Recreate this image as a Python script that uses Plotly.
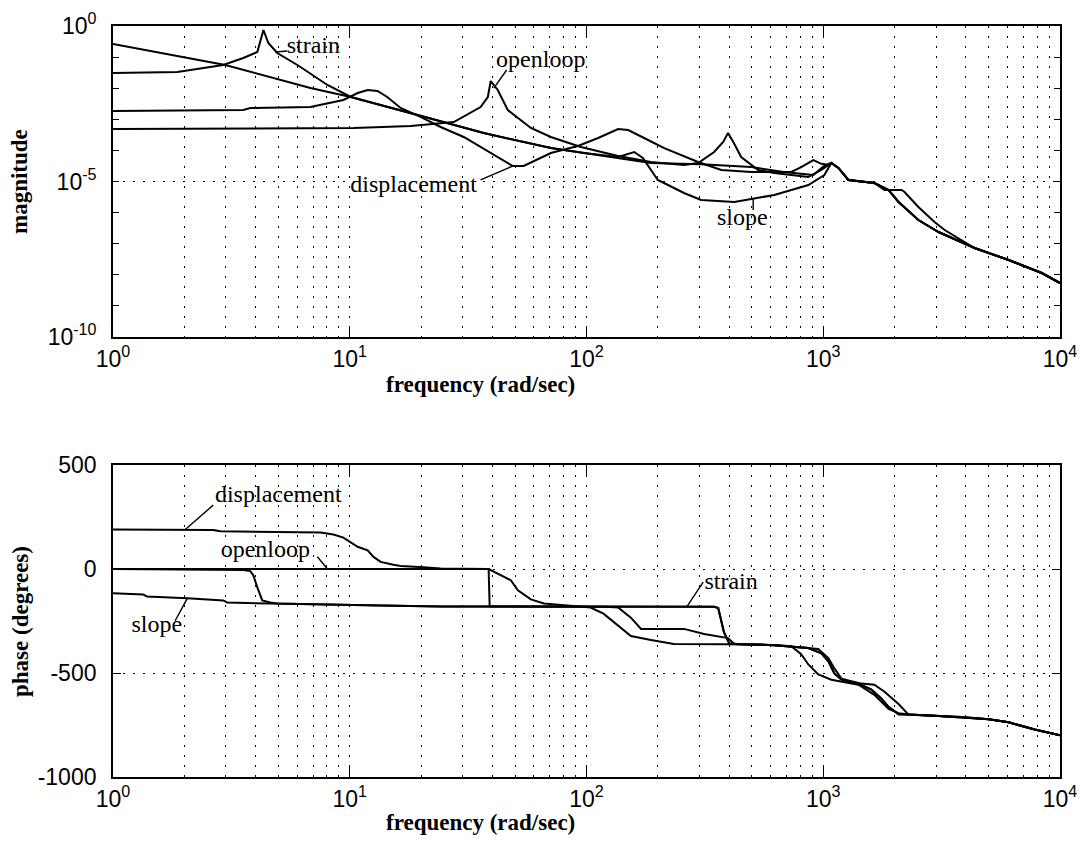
import plotly.graph_objects as go

# ---------------- magnitude data (frequency in rad/sec) ----------------
openloop_mag_f = [1, 10.4, 18.1, 24.2, 27.5, 35.7, 38.3, 39.4, 42.2, 46.5, 51.3, 58.2, 70.7, 94.7,
                  136, 187, 258, 296, 346, 378, 396, 417, 450, 531, 621, 865, 982, 1082]
openloop_mag = [4.88e-4, 5.25e-4, 6.10e-4, 7.60e-4, 8.18e-4, 2.48e-3, 5.21e-3, 1.70e-2, 8.75e-3, 1.99e-3,
                1.10e-3, 5.25e-4, 2.70e-4, 1.29e-4, 6.61e-5, 4.24e-5, 3.40e-5, 3.94e-5, 8.89e-5, 1.86e-4,
                3.62e-4, 1.86e-4, 6.14e-5, 2.34e-5, 1.87e-5, 1.40e-5, 2.34e-5, 3.94e-5]

strain_mag_f = [1, 1.87, 2.92, 3.55, 4.07, 4.32, 4.53, 4.94, 6.01, 8.05, 10.1, 19.4, 36.8, 70.7, 97.5,
                136, 187, 305, 497, 680, 908, 1000, 1082]
strain_mag = [0.0308, 0.0332, 0.0557, 0.0935, 0.146, 0.743, 0.284, 0.1355, 0.0557, 0.01268, 5.21e-3,
              1.37e-3, 3.62e-4, 1.19e-4, 8.24e-5, 5.70e-5, 3.94e-5, 3.60e-5, 2.92e-5, 2.02e-5, 1.62e-5,
              3.00e-5, 3.94e-5]

displacement_mag_f = [1, 3.55, 3.80, 6.82, 9.40, 10.8, 11.9, 13.1, 14.4, 16.4, 19.9, 24.2, 30.3, 42.2,
                      48.8, 54.3, 70.7, 92, 112, 136, 150, 182, 213, 296, 371, 497, 733, 807, 908, 982,
                      1030, 1082]
displacement_mag = [1.85e-3, 1.99e-3, 2.31e-3, 2.48e-3, 4.18e-3, 7.01e-3, 8.75e-3, 8.13e-3, 5.21e-3,
                    2.31e-3, 1.19e-3, 5.65e-4, 2.70e-4, 6.14e-5, 3.15e-5, 3.15e-5, 8.24e-5, 1.38e-4,
                    2.51e-4, 4.88e-4, 4.53e-4, 2.16e-4, 1.19e-4, 4.24e-5, 2.34e-5, 2.02e-5, 2.02e-5,
                    2.92e-5, 4.91e-5, 3.70e-5, 3.50e-5, 3.94e-5]

slope_mag_f = [1, 2.98, 6.82, 10.1, 19.4, 36.8, 70.7, 97.5, 136, 159, 173, 200, 221, 258, 305, 421,
               497, 621, 865, 1011, 1082]
slope_mag = [0.264, 0.0557, 0.0101, 5.21e-3, 1.37e-3, 3.62e-4, 1.19e-4, 8.24e-5, 6.14e-5, 8.89e-5,
             5.70e-5, 1.12e-5, 7.71e-6, 4.27e-6, 2.54e-6, 2.19e-6, 2.74e-6, 3.68e-6, 7.71e-6, 1.62e-5,
             3.94e-5]

# high-frequency roll-off shared by the curves above 1082 rad/sec
tail_mag_f = [1159, 1277, 1644, 1888, 2080, 2523, 3069, 4355, 6067, 8375, 10000]
tail_mag = [2.72e-5, 1.12e-5, 8.95e-6, 5.33e-6, 2.19e-6, 5.78e-7, 2.38e-7, 7.28e-8, 2.99e-8, 1.14e-8, 5.45e-9]
strain_tail_mag_f = [1159, 1277, 1644, 1815, 2142, 2205, 2523, 2951, 3258, 4355, 6067, 8375, 10000]
strain_tail_mag = [2.72e-5, 1.12e-5, 8.95e-6, 5.33e-6, 5.33e-6, 4.59e-6, 1.51e-6, 4.99e-7, 2.76e-7,
                   7.28e-8, 2.99e-8, 1.14e-8, 5.45e-9]

# ---------------- phase data (degrees) ----------------
openloop_ph_f = [1, 38.6, 39.0, 92, 200, 346, 360, 381, 401, 450, 621, 865, 982, 1051, 1114, 1194,
                 1409, 1598, 1762, 1888, 2080]
openloop_ph = [0, 0, -180, -180, -181, -182, -188, -305, -358, -362, -366, -380, -405, -444, -502, -532,
               -551, -580, -624, -663, -698]

strain_ph_f = [1, 3.55, 3.80, 3.91, 4.07, 4.27, 4.62, 4.94, 13.1, 24.2, 346, 360, 381, 401, 450, 621,
               785, 953, 1051, 1114, 1194, 1449, 1644, 1815, 2080]
strain_ph = [0, -5, -10, -29, -88, -151, -161, -166, -176, -180, -182, -188, -305, -358, -362, -366,
             -376, -385, -429, -478, -527, -551, -556, -590, -649]

displacement_ph_f = [1, 2.65, 2.84, 7.52, 8.53, 9.40, 10.8, 11.9, 12.6, 13.5, 15.3, 16.4, 20.5, 24.2,
                     38.6, 43.4, 47.9, 51.3, 58.2, 66.1, 92, 104, 118, 140, 154, 187, 234, 396, 621,
                     733, 807, 865, 953, 1082, 1194, 1409, 1644, 1888, 2080]
displacement_ph = [190, 188, 181, 176, 166, 151, 107, 90, 58, 34, 20, 15, 8, 3, 0, -29, -54, -102,
                   -146, -166, -180, -185, -215, -283, -322, -341, -361, -362, -365, -371, -410, -459,
                   -507, -532, -541, -556, -605, -673, -693]

slope_ph_f = [1, 1.34, 1.39, 1.96, 2.06, 2.92, 3.04, 4.62, 13.1, 24.2, 120, 136, 154, 170, 258, 314,
              396, 421, 450, 621, 865, 982, 1051, 1114, 1194, 1409, 1598, 1762, 1888, 2080]
slope_ph = [-117, -122, -132, -137, -141, -151, -161, -166, -176, -180, -181, -185, -234, -288, -288,
            -312, -332, -361, -362, -366, -380, -405, -444, -502, -532, -551, -580, -624, -663, -698]

tail_ph_f = [2291, 2951, 3837, 5000, 6067, 7818, 10000]
tail_ph = [-700, -705, -712, -722, -737, -772, -800]

# ---------------- curve labels: text position and leader line ----------------
# (text, text_f, text_v, leader_f0, leader_v0, leader_f1, leader_v1)
mag_labels = [
    ("strain", 7.02, 0.211, 5.45, 0.157, 4.85, 0.146),
    ("openloop", 64.1, 0.075, 46.0, 0.0385, 40.6, 0.0101),
    ("displacement", 18.6, 7.16e-6, 35.7, 1.12e-5, 48.8, 3.15e-5),
    ("slope", 455, 6.2e-7, 506, 1.21e-6, 506, 2.74e-6),
]
ph_labels = [
    ("displacement", 4.99, 351, 2.65, 307, 2.02, 190),
    ("openloop", 4.40, 88, 7.30, 59, 8.05, 0),
    ("slope", 1.53, -273, 1.83, -249, 2.06, -141),
    ("strain", 408, -68, 311, -63, 266, -180),
]

decade_ticks = [1, 10, 100, 1000, 10000]
decade_text = ["10<sup>0</sup>", "10<sup>1</sup>", "10<sup>2</sup>", "10<sup>3</sup>", "10<sup>4</sup>"]
mag_ticks = [1e-10, 1e-5, 1]
mag_text = ["10<sup>-10</sup>", "10<sup>-5</sup>", "10<sup>0</sup>"]
ph_ticks = [-1000, -500, 0, 500]
ph_text = ["-1000", "-500", "0", "500"]

SERIF = "Liberation Serif, Times New Roman, serif"
SANS = "Liberation Sans, Arial, Helvetica, sans-serif"
CURVE_W = 2.0

fig = go.Figure()


def add_line(f, v, xa, ya, width=CURVE_W):
    fig.add_trace(go.Scatter(x=f, y=v, mode="lines", line=dict(color="black", width=width),
                             xaxis=xa, yaxis=ya, showlegend=False, hoverinfo="skip"))


# magnitude curves
add_line(openloop_mag_f + tail_mag_f, openloop_mag + tail_mag, "x", "y")
add_line(strain_mag_f + strain_tail_mag_f, strain_mag + strain_tail_mag, "x", "y")
add_line(displacement_mag_f + tail_mag_f, displacement_mag + tail_mag, "x", "y")
add_line(slope_mag_f + tail_mag_f, slope_mag + tail_mag, "x", "y")

# phase curves
add_line(openloop_ph_f + tail_ph_f, openloop_ph + tail_ph, "x2", "y2")
add_line(strain_ph_f + tail_ph_f, strain_ph + tail_ph, "x2", "y2")
add_line(displacement_ph_f + tail_ph_f, displacement_ph + tail_ph, "x2", "y2")
add_line(slope_ph_f + tail_ph_f, slope_ph + tail_ph, "x2", "y2")

# labels with leader lines
for labels, xa, ya in ((mag_labels, "x", "y"), (ph_labels, "x2", "y2")):
    for text, tf, tv, f0, v0, f1, v1 in labels:
        add_line([f0, f1], [v0, v1], xa, ya, width=1.4)
        fig.add_trace(go.Scatter(x=[tf], y=[tv], mode="text", text=[text], textposition="middle center",
                                 textfont=dict(family=SERIF, size=24, color="black"),
                                 xaxis=xa, yaxis=ya, showlegend=False, hoverinfo="skip"))

minor_vals = [k * d for d in (1, 10, 100, 1000) for k in range(2, 10)]
GRID = dict(showgrid=True, gridcolor="black", griddash="2px,8px", gridwidth=1)
TICKFONT = dict(family=SANS, size=23, color="black")
FRAME = dict(showline=True, linecolor="black", linewidth=1.8, mirror="allticks", zeroline=False,
             automargin=False)

xcommon = dict(type="log", range=[0, 4], tickmode="array", tickvals=decade_ticks, ticktext=decade_text,
               ticks="inside", ticklen=10, tickwidth=1.3, tickcolor="black", tickfont=TICKFONT,
               minor=dict(tickmode="array", tickvals=minor_vals, ticks="", **GRID), **GRID, **FRAME)

xdom = [113 / 1085, 1060 / 1085]

fig.update_layout(
    width=1085, height=846,
    margin=dict(l=0, r=0, t=0, b=0, autoexpand=False),
    paper_bgcolor="white", plot_bgcolor="white",
    showlegend=False,
    xaxis=dict(domain=xdom, anchor="y", **xcommon),
    xaxis2=dict(domain=xdom, anchor="y2", **xcommon),
    yaxis=dict(domain=[1 - 337 / 846, 1 - 26 / 846], anchor="x", type="log", range=[-10, 0],
               tickmode="array", tickvals=mag_ticks, ticktext=mag_text,
               ticks="inside", ticklen=6, tickwidth=1.3, tickcolor="black", tickfont=TICKFONT,
               ticklabelstandoff=10,
               minor=dict(tickmode="array", tickvals=[10.0 ** -k for k in range(1, 10)],
                          ticks="inside", ticklen=6, tickcolor="black", showgrid=False),
               **GRID, **FRAME),
    yaxis2=dict(domain=[1 - 777 / 846, 1 - 465 / 846], anchor="x2", range=[-1000, 500],
                tickmode="array", tickvals=ph_ticks, ticktext=ph_text,
                ticks="inside", ticklen=8, tickwidth=1.3, tickcolor="black", tickfont=TICKFONT,
                ticklabelstandoff=10, **GRID, **FRAME),
)

title_font = dict(family=SERIF, size=23, color="black", weight="bold")
titles = [
    ("magnitude", 20, 182, -90),
    ("frequency (rad/sec)", 480, 384, 0),
    ("phase (degrees)", 20, 622, -90),
    ("frequency (rad/sec)", 480, 822, 0),
]
for text, px, py, angle in titles:
    fig.add_annotation(text=text, xref="paper", yref="paper", x=px / 1085, y=1 - py / 846,
                       xanchor="center", yanchor="middle", textangle=angle,
                       showarrow=False, font=title_font)

fig.write_html("out.html")
